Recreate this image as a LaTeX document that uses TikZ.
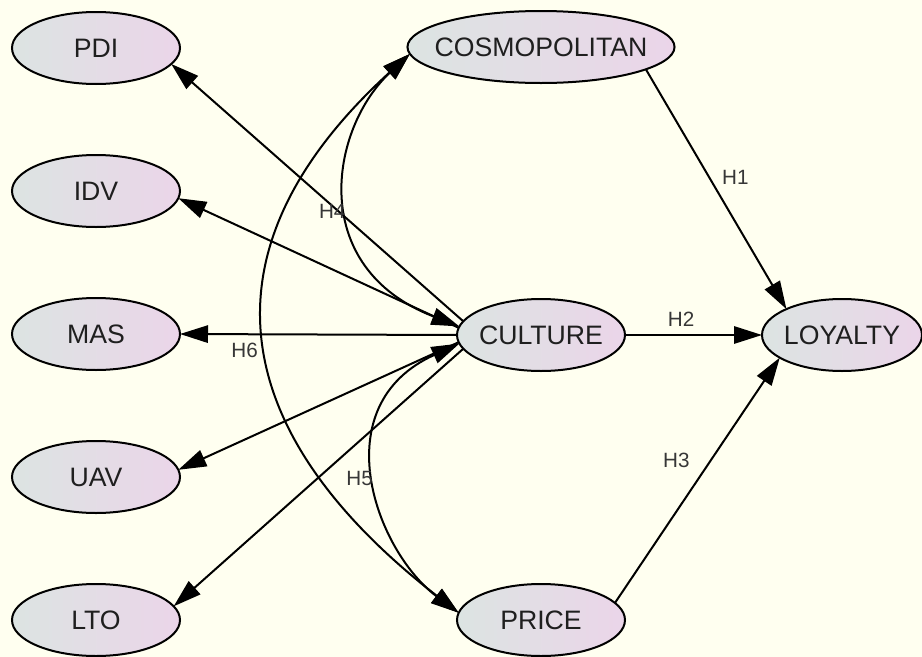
\documentclass[tikz,border=0pt]{standalone}
\usepackage{fontspec}
\setmainfont{Liberation Sans}
\usetikzlibrary{arrows.meta,shapes.geometric,positioning}

\definecolor{bgivory}{RGB}{255,255,240}
\definecolor{ellleft}{RGB}{220,228,226}
\definecolor{ellright}{RGB}{235,213,233}
\definecolor{lblgray}{RGB}{55,55,55}

\tikzset{
  var/.style={ellipse, draw, line width=1.5pt, left color=ellleft, right color=ellright,
    minimum width=126pt, minimum height=54pt, inner xsep=-9pt, inner ysep=0pt, outer sep=0pt,
    font=\fontsize{20}{24}\selectfont, text=black!88},
  hyp/.style={font=\fontsize{15.5}{18}\selectfont, text=lblgray, inner sep=2pt},
}

\begin{document}
\begin{tikzpicture}[x=0.75pt,y=-0.75pt,>={Triangle[length=21pt,width=13pt]},line width=1.5pt]
			\useasboundingbox (0,0) rectangle (922,657);
			\fill[bgivory] (0,0) rectangle (922,657);
			\node[var] (pdi) at (96,48) {PDI};
			\node[var] [below=53.25pt of pdi] (idv) {IDV};
			\node[var] [below=53.25pt of idv] (mas) {MAS};
			\node[var] [below=53.25pt of mas] (uav) {UAV};
			\node[var] [below=53.25pt of uav] (lto) {LTO};
			\node[var,minimum width=200pt] (cosmo) at (541,47) {COSMOPOLITAN};
			\node[var] (culture) at (541,335) {CULTURE};
			\node[var,minimum width=120pt] (loyalty) at (842,335) {LOYALTY};
			\node[var] (price) at (541,620) {PRICE};
			\path[->]
			(culture.170) edge (pdi.-12)
			(culture.175) edge (idv.-5)
			(culture.west) edge (mas.east)
			(culture.185) edge (uav.5)
			(culture.190) edge (lto.10)
			(cosmo.-12) edge node[hyp,pos=.45,right=7pt] {H1} (loyalty.155)
			(culture.east) edge node[hyp,pos=.41,above=4pt] {H2} (loyalty.west)
			(price.13) edge node[hyp,pos=.58,left=13pt] {H3} (loyalty.200);
			\draw[<->] (cosmo.183) .. controls +(-80,75) and +(-153,-59) .. node[hyp,pos=.55,left] {H4} (culture.174);
			\draw[<->] (culture.186) .. controls +(-137,62) and +(-83,-62) .. node[hyp,pos=.5,left] {H5} (price.175);
			\draw[<->] (cosmo.183) .. controls +(-215,196) and +(-232,-180) .. node[hyp,pos=.52,left=5pt] {H6} (price.175);
		\end{tikzpicture}
\end{document}
